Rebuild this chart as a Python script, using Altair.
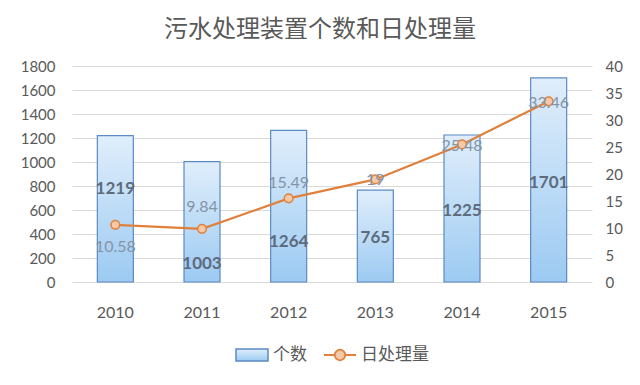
import altair as alt
import pandas as pd

years = ["2010", "2011", "2012", "2013", "2014", "2015"]
counts = [1219, 1003, 1264, 765, 1225, 1701]
daily = [10.58, 9.84, 15.49, 19, 25.48, 33.46]
count_labels = ["1219", "1003", "1264", "765", "1225", "1701"]
daily_labels = ["10.58", "9.84", "15.49", "19", "25.48", "33.46"]
# where Excel placed the data labels (in data units of each axis)
count_label_at = [775, 150, 333, 367, 592, 825]
daily_label_at = [6.5, 13.9, 18.3, 18.8, 25.2, 33.1]

df = pd.DataFrame({
    "year": years,
    "count": counts,
    "daily": daily,
    "count_label": count_labels,
    "daily_label": daily_labels,
    "count_at": count_label_at,
    "daily_at": daily_label_at,
    "s_bar": ["个数"] * 6,
    "s_line": ["日处理量"] * 6,
})

CJK = "Noto Sans CJK SC"
NUM = "Lato"
GREY = "#595959"

x_axis = alt.Axis(title=None, labelAngle=0, labelFont=NUM, labelFontSize=16,
                  labelColor=GREY, ticks=False, domain=False, labelPadding=22, grid=False)
x_enc = alt.X("year:N", sort=years,
              scale=alt.Scale(paddingInner=0.58, paddingOuter=0.29), axis=x_axis)

left_axis = alt.Axis(title=None, values=list(range(0, 1801, 200)), format="d", labelFont=NUM,
                     labelFontSize=15, labelColor=GREY, ticks=False, domain=False,
                     labelPadding=17, gridColor="#d9d9d9", gridWidth=1)
right_axis = alt.Axis(title=None, orient="right", values=list(range(0, 41, 5)), format="d",
                      labelFont=NUM, labelFontSize=15, labelColor=GREY, ticks=False,
                      domain=False, grid=False, labelPadding=13)
left_scale = alt.Scale(domain=[0, 1800])
right_scale = alt.Scale(domain=[0, 40])

base = alt.Chart(df)

bars = base.mark_bar(
    size=36,
    strokeWidth=1.2,
    color=alt.Gradient(gradient="linear",
                       stops=[alt.GradientStop(color="#e0eefb", offset=0),
                              alt.GradientStop(color="#9ccaf2", offset=1)],
                       x1=0, x2=0, y1=0, y2=1),
).encode(
    x=x_enc,
    y=alt.Y("count:Q", scale=left_scale, axis=left_axis),
    stroke=alt.Stroke("s_bar:N", scale=alt.Scale(domain=["个数"], range=["#5b8ac4"]),
                      legend=alt.Legend(title=None, orient="none", legendX=163, legendY=272,
                                        symbolType="M-1,-0.38H1V0.38H-1Z", symbolSize=1024,
                                        symbolFillColor="#c6dff6", symbolStrokeWidth=1.5,
                                        labelFont=CJK, labelFontSize=17, labelColor=GREY,
                                        labelOffset=4, padding=0)),
)

bar_text = base.mark_text(font=NUM, fontSize=17, fontWeight="bold", color="#5d6b7e").encode(
    x=x_enc,
    y=alt.Y("count_at:Q", scale=left_scale, axis=left_axis),
    text="count_label:N",
)

left = alt.layer(bars, bar_text)

line = base.mark_line(
    strokeWidth=2.2,
    point=alt.OverlayMarkDef(filled=True, fill="#f8c9a6", stroke="#e0803c", strokeWidth=1.5, size=75),
).encode(
    x=x_enc,
    y=alt.Y("daily:Q", scale=right_scale, axis=right_axis),
    stroke=alt.Stroke("s_line:N", scale=alt.Scale(domain=["日处理量"], range=["#e0803c"]),
                      legend=alt.Legend(title=None, orient="none", legendX=251, legendY=272,
                                        symbolType="M-1,0H-0.33M0.33,0H1M-0.33,0A0.33,0.33 0 1,1 0.33,0A0.33,0.33 0 1,1 -0.33,0Z",
                                        symbolSize=1024, symbolFillColor="#f8c9a6",
                                        symbolStrokeWidth=1.8,
                                        labelFont=CJK, labelFontSize=17, labelColor=GREY,
                                        labelOffset=4, padding=0)),
)

line_text = base.mark_text(font=NUM, fontSize=16, color="#8494a8").encode(
    x=x_enc,
    y=alt.Y("daily_at:Q", scale=right_scale, axis=right_axis),
    text="daily_label:N",
)

right = alt.layer(line, line_text)

chart = alt.layer(left, right).resolve_scale(
    y="independent", stroke="independent"
).properties(
    width=520,
    height=216,
    padding={"left": 64, "top": 58, "right": 40, "bottom": 103},
    autosize=alt.AutoSizeParams(type="none"),
    title=alt.TitleParams("污水处理装置个数和日处理量", font=CJK, fontSize=24,
                          fontWeight="normal", color=GREY, anchor="middle", offset=17, dx=-12),
).configure_view(stroke=None)

chart.save("out.html", embed_options={"renderer": "svg", "actions": False})
